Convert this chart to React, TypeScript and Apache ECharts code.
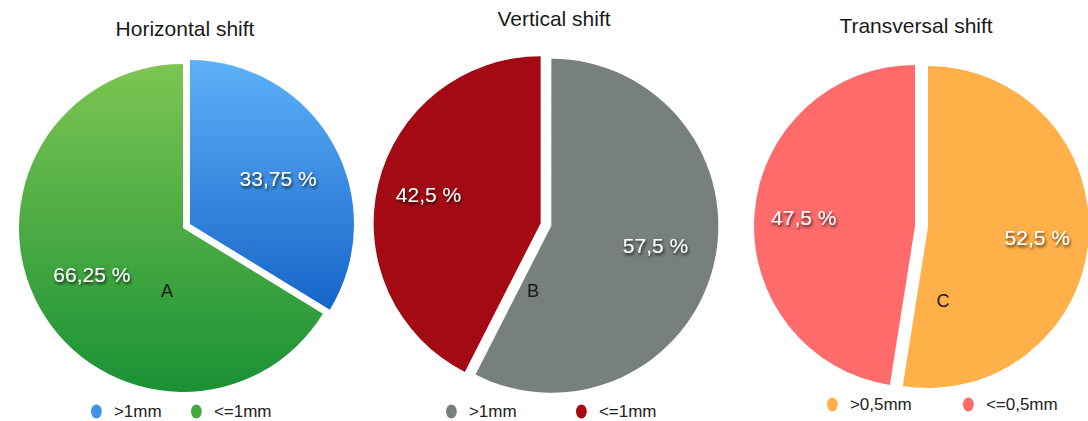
import React, { useEffect, useRef } from 'react';
import * as echarts from 'echarts';

const titles = ['Horizontal shift', 'Vertical shift', 'Transversal shift'];
const letters = ['A', 'B', 'C'];

const categoriesH = ['>1mm', '<=1mm'];
const valuesH = [33.75, 66.25];
const categoriesV = ['>1mm', '<=1mm'];
const valuesV = [57.5, 42.5];
const categoriesT = ['>0,5mm', '<=0,5mm'];
const valuesT = [52.5, 47.5];

const FONT = '"Liberation Sans", Arial, Helvetica, sans-serif';

const grad = (top: string, bottom: string) => ({
  type: 'linear', x: 0, y: 0, x2: 0, y2: 1,
  colorStops: [{ offset: 0, color: top }, { offset: 1, color: bottom }],
});

const fmt = (v: number) => String(v).replace('.', ',') + ' %';

const ELLIPSE = 'path://M5,0A5,6.5 0 1,1 5,13A5,6.5 0 1,1 5,0Z';

export default function App() {
  const ref = useRef<HTMLDivElement>(null);
  useEffect(() => {
    if (!ref.current) return;
    const chart = echarts.init(ref.current, null, { renderer: 'svg' });

    const labelBase = {
      show: true,
      position: 'inside',
      color: '#ffffff',
      fontSize: 21,
      fontFamily: FONT,
      textShadowColor: 'rgba(0,0,0,0.8)',
      textShadowBlur: 3,
      textShadowOffsetX: 1,
      textShadowOffsetY: 2,
      formatter: (p: any) => fmt(p.value),
    };

    const mkPie = (
      cats: string[], vals: number[], colors: any[], center: number[], r: number,
      offset: number, shifts: number[][],
    ) => ({
      type: 'pie',
      center,
      radius: r,
      startAngle: 90,
      clockwise: true,
      selectedMode: 'multiple',
      selectedOffset: offset,
      silent: true,
      emphasis: { disabled: true },
      select: { itemStyle: { borderWidth: 0 } },
      label: labelBase,
      labelLine: { show: false },
      labelLayout: (p: any) => ({ dx: shifts[p.dataIndex][0], dy: shifts[p.dataIndex][1] }),
      itemStyle: { borderWidth: 0 },
      data: cats.map((c, i) => ({
        name: c,
        value: vals[i],
        selected: true,
        itemStyle: { color: colors[i] },
        select: { itemStyle: { color: colors[i] } },
      })),
    });

    const legendItem = (name: string, color: string, left: number, top: number) => ({
      data: [{ name, itemStyle: { color } }],
      left,
      top,
      orient: 'horizontal',
      itemWidth: 11,
      itemHeight: 14,
      itemGap: 0,
      icon: ELLIPSE,
      selectedMode: false,
      padding: 0,
      textStyle: { fontSize: 17, fontFamily: FONT, color: '#222222', padding: [0, 0, 0, 7] },
    });

    const textEl = (text: string, x: number, y: number, size: number) => ({
      type: 'text',
      x,
      y,
      z: 100,
      silent: true,
      style: {
        text,
        fontSize: size,
        fontFamily: FONT,
        fill: '#1a1a1a',
        align: 'center',
        verticalAlign: 'middle',
      },
    });

    chart.setOption({
      animation: false,
      backgroundColor: '#ffffff',
      legend: [
        legendItem(categoriesH[0], '#3C93E6', 91, 403),
        legendItem(categoriesH[1], '#45A83D', 191, 403),
        legendItem(categoriesV[0], '#77807C', 446, 403),
        legendItem(categoriesV[1], '#A30A14', 576, 403),
        legendItem(categoriesT[0], '#FFB048', 827, 396),
        legendItem(categoriesT[1], '#FF6B6B', 963, 396),
      ],
      graphic: [
        textEl(titles[0], 185, 28, 21),
        textEl(titles[1], 554, 18, 21),
        textEl(titles[2], 916, 25, 21),
        textEl(letters[0], 167, 291, 18),
        textEl(letters[1], 533, 291, 18),
        textEl(letters[2], 943, 301, 18),
      ],
      series: [
        mkPie(categoriesH, valuesH, [grad('#5DB1F8', '#1565C9'), grad('#7DC552', '#1A9135')],
          [186.5, 226], 164, 4, [[14, -4], [-17, 5]]),
        mkPie(categoriesV, valuesV, ['#77807C', '#A30A14'],
          [546, 224.5], 167, 5.5, [[20, 0], [-28, -9]]),
        mkPie(categoriesT, valuesT, ['#FFB048', '#FF6B6B'],
          [921.5, 226.5], 161, 6.5, [[26, 4], [-28, -2]]),
      ],
    });
    return () => chart.dispose();
  }, []);
  return (
    <div
      ref={ref}
      style={{ position: 'fixed', left: 0, top: 0, width: 1088, height: 421, background: '#fff' }}
    />
  );
}
